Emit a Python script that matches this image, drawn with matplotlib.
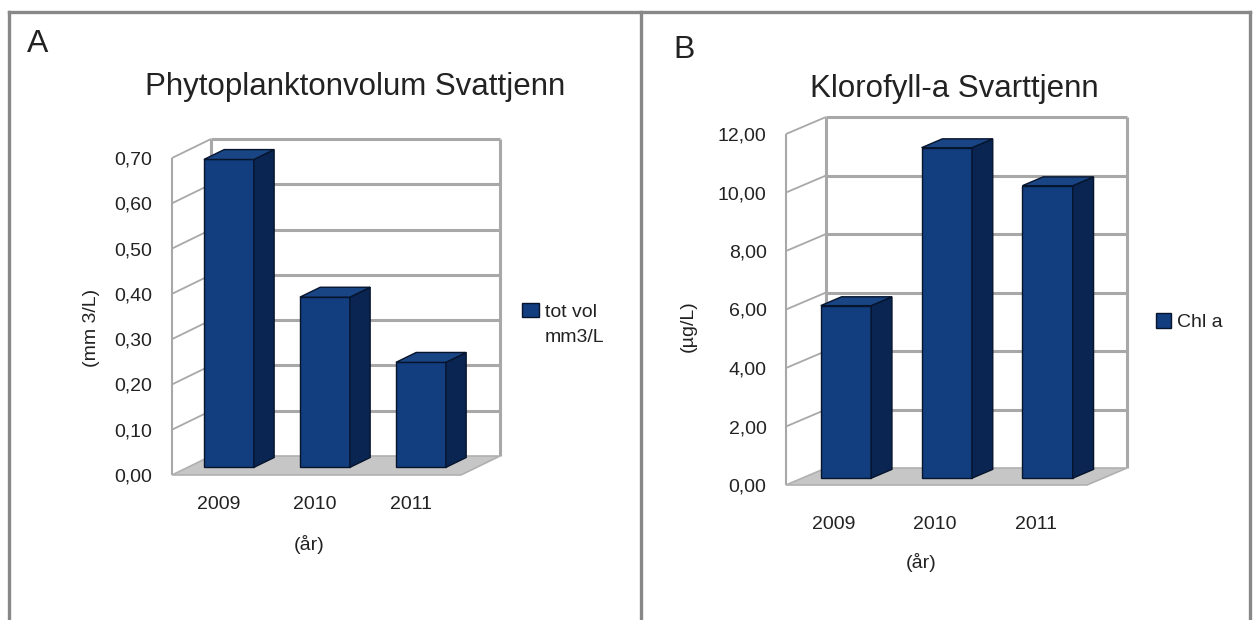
import matplotlib
matplotlib.use('Agg')
import matplotlib.pyplot as plt
import numpy as np
from matplotlib.patches import Polygon, Rectangle
from matplotlib.lines import Line2D

plt.rcParams['font.family'] = ['Liberation Sans', 'DejaVu Sans']

years = ['2009', '2010', '2011']
phyto_vol = [0.68, 0.376, 0.232]          # mm3/L
chla = [5.9, 11.3, 10.0]                  # ug/L
phyto_ticks = [0.0, 0.1, 0.2, 0.3, 0.4, 0.5, 0.6, 0.7]
chla_ticks = [0, 2, 4, 6, 8, 10, 12]

FRONT = '#123e80'
SIDE = '#0a2552'
TOP = '#1a4585'
EDGE = '#06142c'
GRID = '#a8a8a8'
FLOOR = '#c6c6c6'
TXT = '#222222'

W, H = 1257, 620
fig = plt.figure(figsize=(W / 100, H / 100), dpi=100)


def fx(px):
    return px / W


def fy(py):
    return 1 - py / H


def box_chart(left, right, y0, ytop, xlim, ticks, values, depth, f=0.4, b=0.52, width=0.52):
    ax = fig.add_axes([fx(left), fy(y0), (right - left) / W, (y0 - ytop) / H])
    ax.set_xlim(*xlim)
    ax.set_ylim(ticks[0], ticks[-1])
    # pixel depth -> data units
    DX = depth[0] * (xlim[1] - xlim[0]) / (right - left)
    DY = depth[1] * (ticks[-1] - ticks[0]) / (y0 - ytop)
    x0, x1 = xlim
    top = ticks[-1]
    for s in ax.spines.values():
        s.set_visible(False)
    ax.patch.set_alpha(0)

    line_kw = dict(color=GRID, clip_on=False, solid_capstyle='butt')
    # floor
    ax.add_patch(Polygon([(x0, 0), (x1, 0), (x1 + DX, DY), (x0 + DX, DY)], closed=True,
                         fc=FLOOR, ec='#b0b0b0', lw=1.2, clip_on=False, zorder=1))
    # back wall grid + left wall slants
    for t in ticks[1:]:
        ax.plot([x0 + DX, x1 + DX], [t + DY, t + DY], lw=2.2, zorder=0.5, **line_kw)
        ax.plot([x0, x0 + DX], [t, t + DY], lw=1.3, zorder=0.5, **line_kw)
    ax.plot([x0, x0], [0, top], lw=1.5, zorder=0.5, **line_kw)
    ax.plot([x0 + DX, x0 + DX], [DY, top + DY], lw=2.2, zorder=0.5, **line_kw)
    ax.plot([x1 + DX, x1 + DX], [DY, top + DY], lw=2.2, zorder=0.5, **line_kw)

    xs = np.arange(len(values))
    ax.bar(xs + f * DX, values, width, bottom=f * DY, color=FRONT, edgecolor=EDGE,
           lw=1, zorder=3, clip_on=False)
    for xi, v in zip(xs, values):
        xl = xi + f * DX - width / 2
        xr = xl + width
        yb = f * DY
        yt = v + f * DY
        ax.add_patch(Polygon([(xr, yb), (xr + b * DX, yb + b * DY), (xr + b * DX, yt + b * DY), (xr, yt)],
                             closed=True, fc=SIDE, ec=EDGE, lw=1, zorder=3, clip_on=False))
        ax.add_patch(Polygon([(xl, yt), (xr, yt), (xr + b * DX, yt + b * DY), (xl + b * DX, yt + b * DY)],
                             closed=True, fc=TOP, ec=EDGE, lw=1, zorder=3, clip_on=False))

    ax.set_yticks(ticks)
    ax.set_yticklabels([f'{t:.2f}'.replace('.', ',') for t in ticks])
    ax.tick_params(axis='both', length=0, labelsize=14, labelcolor=TXT)
    ax.tick_params(axis='y', pad=14)
    return ax, xs


# ---- panel A ----
axA, xs = box_chart(172, 461, 475, 158, (-0.43, 2.58), phyto_ticks, phyto_vol, depth=(39, 19))
axA.set_xticks(xs + 0.06)
axA.set_xticklabels(years)
axA.tick_params(axis='x', pad=15)
axA.set_xlabel('(år)', fontsize=14, color=TXT)
axA.xaxis.set_label_coords((309 - 172) / 289, (475 - 544) / 317)
axA.xaxis.label.set_va('center')
axA.set_ylabel('(mm 3/L)', fontsize=14, color=TXT)
axA.yaxis.set_label_coords((92 - 172) / 289, (475 - 328) / 317)
axA.yaxis.label.set_va('center')
axA.legend(handles=[Rectangle((0, 0), 1, 1, fc=FRONT, ec=EDGE), Rectangle((0, 0), 1, 1, fc='none', ec='none')],
           labels=['tot vol', 'mm3/L'], loc='upper left', bbox_to_anchor=(fx(522), fy(303)),
           bbox_transform=fig.transFigure, frameon=False, borderpad=0, borderaxespad=0,
           handlelength=0.88, handleheight=0.77, handletextpad=0.3, labelspacing=0.35,
           fontsize=14, labelcolor=TXT)
fig.text(fx(355), fy(95), 'Phytoplanktonvolum Svattjenn', ha='center', va='baseline', fontsize=22.5, color=TXT)
fig.text(fx(27), fy(52), 'A', ha='left', va='baseline', fontsize=23, color=TXT)

# ---- panel B ----
axB, xs = box_chart(786, 1087, 485, 134, (-0.436, 2.55), chla_ticks, chla, depth=(40, 17), width=0.5)
axB.set_xticks(xs + 0.04)
axB.set_xticklabels(years)
axB.tick_params(axis='x', pad=22)
axB.set_xlabel('(år)', fontsize=14, color=TXT)
axB.xaxis.set_label_coords((921 - 786) / 301, (485 - 562) / 351)
axB.xaxis.label.set_va('center')
axB.set_ylabel('(µg/L)', fontsize=14, color=TXT)
axB.yaxis.set_label_coords((688 - 786) / 301, (485 - 326) / 351)
axB.yaxis.label.set_va('center')
axB.legend(handles=[Rectangle((0, 0), 1, 1, fc=FRONT, ec=EDGE)], labels=['Chl a'],
           loc='upper left', bbox_to_anchor=(fx(1156), fy(313)), bbox_transform=fig.transFigure,
           frameon=False, borderpad=0, borderaxespad=0, handlelength=0.75, handleheight=0.8,
           handletextpad=0.35, fontsize=14, labelcolor=TXT)
fig.text(fx(954), fy(97), 'Klorofyll-a Svarttjenn', ha='center', va='baseline', fontsize=22.5, color=TXT)
fig.text(fx(673), fy(58), 'B', ha='left', va='baseline', fontsize=23, color=TXT)

# ---- outer frame ----
frame_kw = dict(transform=fig.transFigure, color='#888888', lw=2.4)
fig.add_artist(Line2D([fx(9), fx(1250)], [fy(12), fy(12)], **frame_kw))
fig.add_artist(Line2D([fx(9), fx(9)], [fy(12), 0], **frame_kw))
fig.add_artist(Line2D([fx(641), fx(641)], [fy(12), 0], **frame_kw))
fig.add_artist(Line2D([fx(1250), fx(1250)], [fy(12), 0], **frame_kw))

fig.savefig('out.png', dpi=100)
